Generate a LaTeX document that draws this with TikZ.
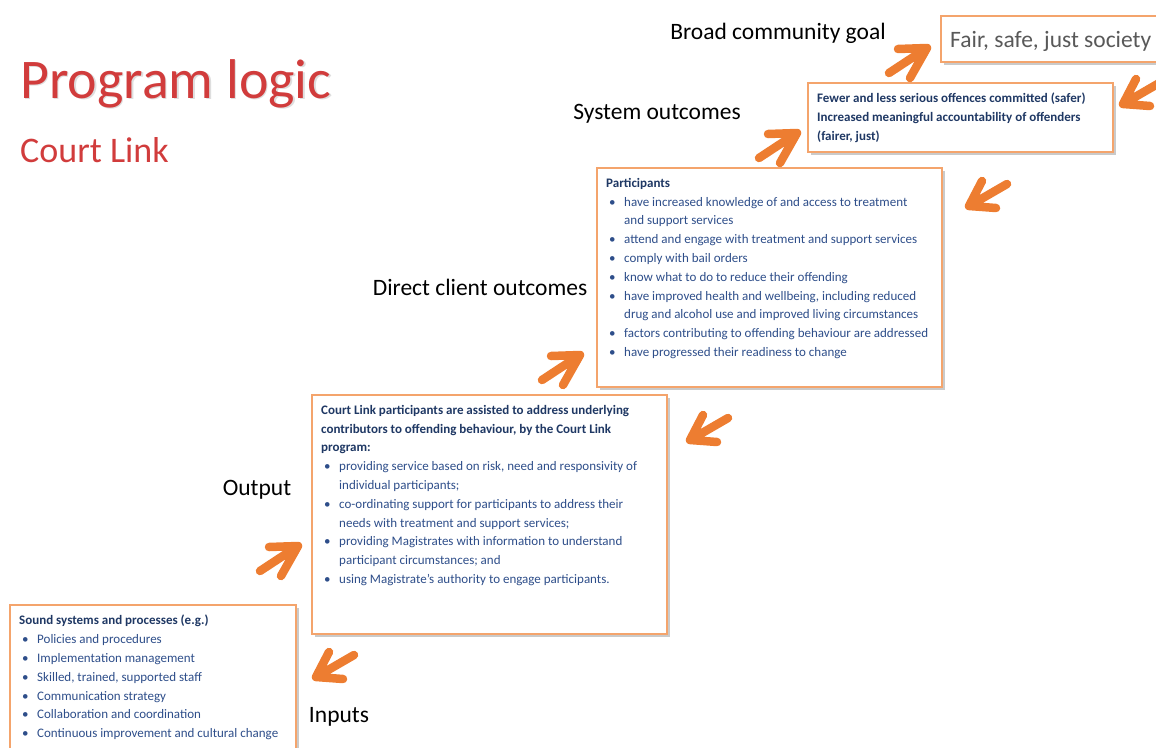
\documentclass[tikz,border=0pt]{standalone}
\usepackage{fontspec}
\setmainfont{Carlito}
\usetikzlibrary{shadows}

\definecolor{arroworange}{HTML}{ED7D31}
\definecolor{boxedge}{HTML}{F4A46C}
\definecolor{titlered}{HTML}{D13C3C}
\definecolor{navy}{HTML}{1F3864}
\definecolor{itemblue}{HTML}{2E4E8A}
\definecolor{goalgray}{HTML}{595959}

% bullet and hanging indent for the list lines
\newcommand{\itemmark}{\hspace*{3pt}\makebox[15pt][l]{•}}
\newcommand{\contind}{\hspace*{18pt}}

\tikzset{
  x=1pt, y=-1pt,
  stage/.style={draw=boxedge, line width=2.5pt, fill=white, anchor=north west,
    inner sep=0pt, outer sep=0pt,
    drop shadow={shadow xshift=2.5pt, shadow yshift=-2.5pt, opacity=0.35, fill=black!60}},
  chev/.style={draw=arroworange, line width=8.5pt, line cap=round, line join=round},
  level/.style={font=\fontsize{23.5}{28}\selectfont, text=black, inner sep=0pt},
  boxtext/.style={anchor=north west, inner sep=0pt, align=left, text=itemblue,
    font=\fontsize{13}{18.8}\selectfont},
  boxhead/.style={text=navy, font=\bfseries\fontsize{13}{18.8}\selectfont},
  upright/.pic={\draw[chev] (-38,25) -- (0,0) (-29,1) -- (0,0) -- (-17,30);},
  downleft/.pic={\draw[chev] (38,-22) -- (0,0) (13,-25) -- (0,0) -- (27,2);},
}

\begin{document}
\begin{tikzpicture}
\useasboundingbox (0,0) rectangle (1156,747);
\clip (0,0) rectangle (1156,747);

% title
\node[anchor=west, inner sep=0pt, text=black!13, font=\fontsize{56}{60}\selectfont] (titleshadow) at (21.5,85) {Program logic};
\node[anchor=west, inner sep=0pt, text=titlered, font=\fontsize{56}{60}\selectfont] (title) at (20,83.5) {Program logic};
\node[anchor=west, inner sep=0pt, text=titlered, font=\fontsize{36}{40}\selectfont] (subtitle) at (20,150) {Court Link};

% stage boxes
\node[stage, minimum width=230pt, minimum height=46pt] (goal) at (941,16) {};
\node[stage, minimum width=305pt, minimum height=69pt] (sys) at (808,83) {};
\node[stage, minimum width=345pt, minimum height=219pt] (direct) at (597,168) {};
\node[stage, minimum width=355pt, minimum height=239pt] (output) at (312,395) {};
\node[stage, minimum width=286pt, minimum height=160pt] (inputs) at (10,605) {};

% box contents
\node[anchor=west, inner sep=0pt, text=goalgray, font=\fontsize{23.5}{28}\selectfont] (goaltext) at (950,41) {Fair, safe, just society};

\node[boxtext, boxhead] (systext) at (817,93) {Fewer and less serious offences committed (safer)\\
Increased meaningful accountability of offenders\\
(fairer, just)};

\node[boxtext] (directtext) at (606,178) {\textcolor{navy}{\bfseries Participants}\\
\itemmark have increased knowledge of and access to treatment\\
\contind and support services\\
\itemmark attend and engage with treatment and support services\\
\itemmark comply with bail orders\\
\itemmark know what to do to reduce their offending\\
\itemmark have improved health and wellbeing, including reduced\\
\contind drug and alcohol use and improved living circumstances\\
\itemmark factors contributing to offending behaviour are addressed\\
\itemmark have progressed their readiness to change};

\node[boxtext] (outputtext) at (321,405) {\textcolor{navy}{\bfseries Court Link participants are assisted to address underlying}\\
\textcolor{navy}{\bfseries contributors to offending behaviour, by the Court Link}\\
\textcolor{navy}{\bfseries program:}\\
\itemmark providing service based on risk, need and responsivity of\\
\contind individual participants;\\
\itemmark co-ordinating support for participants to address their\\
\contind needs with treatment and support services;\\
\itemmark providing Magistrates with information to understand\\
\contind participant circumstances; and\\
\itemmark using Magistrate’s authority to engage participants.};

\node[boxtext] (inputstext) at (19,615) {\textcolor{navy}{\bfseries Sound systems and processes (e.g.)}\\
\itemmark Policies and procedures\\
\itemmark Implementation management\\
\itemmark Skilled, trained, supported staff\\
\itemmark Communication strategy\\
\itemmark Collaboration and coordination\\
\itemmark Continuous improvement and cultural change};

% level labels
\node[level] (lgoal) at (778,33) {Broad community goal};
\node[level] (lsys) at (657,114) {System outcomes};
\node[level] (ldirect) at (480,287) {Direct client outcomes};
\node[level] (loutput) at (257,490) {Output};
\node[level] (linputs) at (339,717) {Inputs};

% upward arrows
\pic at (927,48) {upright};
\pic at (797,133) {upright};
\pic at (580,355) {upright};
\pic at (298,546) {upright};

% downward arrows
\pic at (1123,104) {downleft};
\pic at (969,206) {downleft};
\pic at (690,440) {downleft};
\pic at (316,677) {downleft};
\end{tikzpicture}
\end{document}
